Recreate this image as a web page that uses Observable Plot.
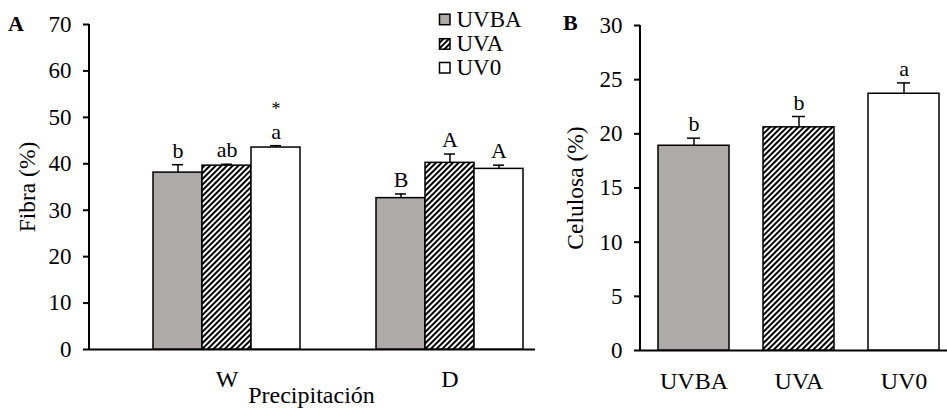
<!DOCTYPE html>
<html><head><meta charset="utf-8">
<script src="https://cdn.jsdelivr.net/npm/d3@7"></script>
<script src="https://cdn.jsdelivr.net/npm/@observablehq/plot@0.6"></script>
<style>
html,body{margin:0;padding:0;background:#fff;overflow:hidden}
#wrap{position:relative;width:947px;height:409px;overflow:hidden;font-family:"Liberation Serif","Times New Roman",serif}
#wrap > svg{position:absolute;top:0}
</style></head><body><div id="wrap"></div>
<script>
// ---- data ----
const treatments = ["UVBA", "UVA", "UV0"];
const precipitation = ["W", "D"];
const fibraW = [38.1, 39.6, 43.5];
const fibraWErr = [1.7, 0.3, 0.4];
const fibraD = [32.6, 40.2, 38.9];
const fibraDErr = [0.9, 1.9, 0.8];
const lettersW = ["b", "ab", "a"];
const lettersD = ["B", "A", "A"];
const signifW = ["", "", "*"];
const fibraTicks = [0, 10, 20, 30, 40, 50, 60, 70];
const celulosa = [18.9, 20.6, 23.7];
const celulosaErr = [0.7, 1.0, 1.0];
const lettersCel = ["b", "b", "a"];
const celulosaTicks = [0, 5, 10, 15, 20, 25, 30];
const fills = {UVBA: "#aeaaaa", UVA: "url(#stripes)", UV0: "#ffffff"};

const font = "Liberation Serif, Times New Roman, serif";
const wrap = document.getElementById("wrap");

// overlay with pattern defs, titles, legend
const ov = d3.create("svg").attr("width", 947).attr("height", 409)
  .style("position", "absolute").style("left", "0px").style("top", "0px")
  .style("pointer-events", "none").style("font-family", font);
const pat = ov.append("defs").append("pattern").attr("id", "stripes")
  .attr("patternUnits", "userSpaceOnUse").attr("width", 4).attr("height", 4)
  .attr("patternTransform", "rotate(45)");
pat.append("rect").attr("width", 4).attr("height", 4).attr("fill", "#fff");
pat.append("rect").attr("width", 2).attr("height", 4).attr("fill", "#000");

function addYLine(plot, x) {
  const y = plot.scale("y");
  d3.select(plot).append("line")
    .attr("x1", x).attr("x2", x)
    .attr("y1", y.apply(y.domain[0]) + 1).attr("y2", y.apply(y.domain[1]))
    .attr("stroke", "#000").attr("stroke-width", 2);
}

// ---- panel A ----
const rowsA = precipitation.flatMap(p => treatments.map((t, i) => ({
  p, t,
  v: p === "W" ? fibraW[i] : fibraD[i],
  e: p === "W" ? fibraWErr[i] : fibraDErr[i],
  l: p === "W" ? lettersW[i] : lettersD[i],
  s: p === "W" ? signifW[i] : ""
})));

const plotA = Plot.plot({
  width: 545, height: 409,
  marginLeft: 88, marginRight: 10, marginTop: 24, marginBottom: 60,
  style: {fontFamily: font, fontSize: "23px", background: "transparent", color: "#000", overflow: "visible"},
  fx: {domain: precipitation, padding: 0, axis: null, label: null},
  x: {domain: treatments, paddingInner: 0, paddingOuter: 0.7425, align: 0.838, axis: null},
  y: {domain: [0, 70], axis: null},
  color: {type: "identity"},
  marks: [
    Plot.ruleY([0], {stroke: "#000", strokeWidth: 2}),
    Plot.barY(rowsA, {fx: "p", x: "t", y: "v", fill: d => fills[d.t], stroke: "#000", strokeWidth: 1.5}),
    Plot.ruleX(rowsA, {fx: "p", x: "t", y1: "v", y2: d => d.v + d.e, stroke: "#000", strokeWidth: 1.5}),
    Plot.tickY(rowsA, {fx: "p", x: "t", y: d => d.v + d.e, stroke: "#000", strokeWidth: 1.5, insetLeft: 19, insetRight: 19}),
    Plot.text(rowsA, {fx: "p", x: "t", y: d => d.v + d.e, text: "l", lineAnchor: "bottom", dy: -7, fontSize: 22}),
    Plot.text(rowsA.filter(d => d.s), {fx: "p", x: "t", y: d => d.v + d.e, text: "s", lineAnchor: "bottom", dy: -31, fontSize: 18}),
    Plot.text(precipitation, {fx: d => d, x: () => treatments[1], text: d => d, frameAnchor: "bottom", lineAnchor: "bottom", dy: 37, fontSize: 24}),
    Plot.axisY({ticks: fibraTicks, tickFormat: d => d, tickSize: 6, tickPadding: 12, stroke: "#000", strokeWidth: 2, label: null})
  ]
});
plotA.style.left = "0px";
addYLine(plotA, plotA.scale("fx").apply(precipitation[0]));
wrap.appendChild(plotA);

// ---- panel B ----
const rowsB = treatments.map((t, i) => ({t, v: celulosa[i], e: celulosaErr[i], l: lettersCel[i]}));
const plotB = Plot.plot({
  width: 412, height: 409,
  marginLeft: 95, marginRight: 0, marginTop: 25, marginBottom: 59,
  style: {fontFamily: font, fontSize: "23px", background: "transparent", color: "#000", overflow: "visible"},
  x: {domain: treatments, paddingInner: 0.324, paddingOuter: 0.171, align: 0.5, axis: null},
  y: {domain: [0, 30], axis: null},
  color: {type: "identity"},
  marks: [
    Plot.ruleY([0], {stroke: "#000", strokeWidth: 2}),
    Plot.barY(rowsB, {x: "t", y: "v", fill: d => fills[d.t], stroke: "#000", strokeWidth: 1.5}),
    Plot.ruleX(rowsB, {x: "t", y1: "v", y2: d => d.v + d.e, stroke: "#000", strokeWidth: 1.5}),
    Plot.tickY(rowsB, {x: "t", y: d => d.v + d.e, stroke: "#000", strokeWidth: 1.5, insetLeft: 29, insetRight: 29}),
    Plot.text(rowsB, {x: "t", y: d => d.v + d.e, text: "l", lineAnchor: "bottom", dy: -7, fontSize: 22}),
    Plot.text(treatments, {x: d => d, text: d => d, frameAnchor: "bottom", lineAnchor: "bottom", dy: 38, fontSize: 24}),
    Plot.axisY({ticks: celulosaTicks, tickFormat: d => d, tickSize: 6, tickPadding: 12, stroke: "#000", strokeWidth: 2, label: null})
  ]
});
plotB.style.left = "545px";
addYLine(plotB, plotB.scale("x").range[0]);
wrap.appendChild(plotB);

// titles
ov.append("text").attr("x", 8).attr("y", 31).attr("font-weight", "bold").attr("font-size", 22).text("A");
ov.append("text").attr("x", 563).attr("y", 29.5).attr("font-weight", "bold").attr("font-size", 22).text("B");
ov.append("text").attr("transform", "translate(35,187) rotate(-90)").attr("text-anchor", "middle").attr("font-size", 23.5).text("Fibra (%)");
ov.append("text").attr("transform", "translate(583,188) rotate(-90)").attr("text-anchor", "middle").attr("font-size", 23.5).text("Celulosa (%)");
ov.append("text").attr("x", 311.5).attr("y", 403).attr("text-anchor", "middle").attr("font-size", 24).text("Precipitación");

// legend
const legY = [26.7, 51.2, 75];
treatments.forEach((t, i) => {
  ov.append("rect").attr("x", 439.5).attr("y", legY[i] - 12.5).attr("width", 10.5).attr("height", 10.5)
    .attr("fill", fills[t]).attr("stroke", "#000").attr("stroke-width", 1.5);
  ov.append("text").attr("x", 456.5).attr("y", legY[i]).attr("font-size", 23).text(t);
});
wrap.appendChild(ov.node());
</script></body></html>
